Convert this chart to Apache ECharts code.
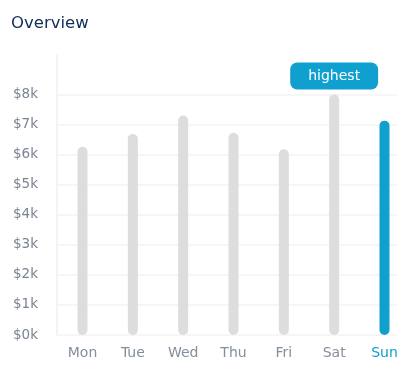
<!DOCTYPE html>
<html>
<head>
<meta charset="utf-8">
<script src="https://cdn.jsdelivr.net/npm/echarts@6/dist/echarts.min.js"></script>
<style>
html,body{margin:0;padding:0;background:#fff;}
#chart{width:407px;height:375px;}
</style>
</head>
<body>
<div id="chart"></div>
<script>
var days = ['Mon', 'Tue', 'Wed', 'Thu', 'Fri', 'Sat', 'Sun'];
var sales = [6260, 6690, 7300, 6730, 6180, 8000, 7130];
var currentDay = 'Sun';
var highestLabel = 'highest';
var titleText = 'Overview';

var FONT = 'DejaVu Sans';
var GRAY = '#dddddd';
var BLUE = '#0fa0cf';
var maxVal = Math.max.apply(null, sales);

var chart = echarts.init(document.getElementById('chart'), null, {renderer: 'canvas'});
chart.setOption({
  animation: false,
  title: {
    text: titleText, left: 6, top: 10,
    textStyle: {fontFamily: FONT, fontSize: 16.5, fontWeight: 'normal', color: '#112c58'}
  },
  grid: [
    {left: 57, right: 10, top: 94.5, bottom: 40},
    {left: 57, right: 10, top: 55, bottom: 40},
    {left: 82.5, right: 22.5, top: 94.5, bottom: 40}
  ],
  xAxis: [
    {gridIndex: 0, type: 'category', data: days, show: false},
    {gridIndex: 1, type: 'category', data: days, show: false},
    {gridIndex: 2, type: 'category', data: days.map(function (d) {
        return d === currentDay ? {value: d, textStyle: {color: BLUE}} : d;
      }),
      boundaryGap: false,
      axisLine: {show: false}, axisTick: {show: false}, splitLine: {show: false},
      axisLabel: {margin: 11, fontFamily: FONT, fontSize: 14, color: '#848e9c'}
    }
  ],
  yAxis: [
    {gridIndex: 0, type: 'value', min: 0, max: 8000, interval: 1000,
      axisLine: {show: false}, axisTick: {show: false},
      splitLine: {lineStyle: {color: '#f3f3f3', width: 1.5}},
      axisLabel: {margin: 19, fontFamily: FONT, fontSize: 13.5, color: '#7a8390',
        formatter: function (v) { return '$' + (v / 1000) + 'k'; }}
    },
    {gridIndex: 1, type: 'value', min: 0, max: 1,
      axisLine: {show: true, lineStyle: {color: '#f0f0f0', width: 1.5}},
      axisTick: {show: false}, axisLabel: {show: false}, splitLine: {show: false}
    },
    {gridIndex: 2, type: 'value', min: 0, max: 8000, show: false, splitLine: {show: false}}
  ],
  series: [{
    type: 'bar', xAxisIndex: 2, yAxisIndex: 2,
    barWidth: 10,
    data: sales.map(function (v, i) {
      var item = {
        value: v,
        itemStyle: {color: days[i] === currentDay ? BLUE : GRAY, borderRadius: 5}
      };
      if (v === maxVal) {
        item.label = {
          show: true, position: 'top', distance: 5,
          formatter: highestLabel,
          fontFamily: FONT, fontSize: 14, color: '#ffffff',
          backgroundColor: BLUE, borderRadius: 7,
          padding: [6, 18, 6, 18], lineHeight: 15
        };
      }
      return item;
    })
  }]
});
</script>
</body>
</html>
